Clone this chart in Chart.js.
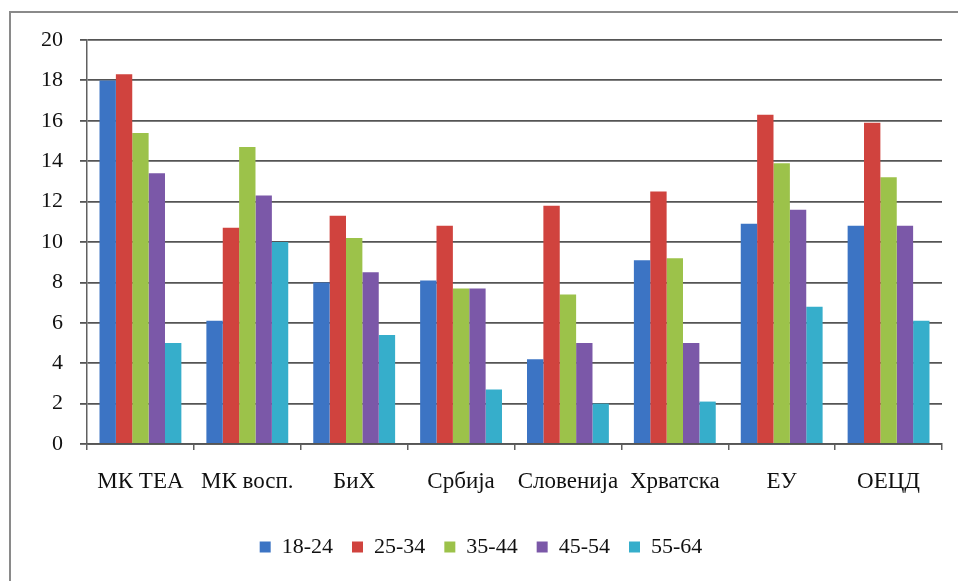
<!DOCTYPE html>
<html>
<head>
<meta charset="utf-8">
<script src="https://cdn.jsdelivr.net/npm/chart.js@4.4.1/dist/chart.umd.min.js"></script>
<style>
  html, body { margin: 0; padding: 0; background: #fff; }
  #wrap { width: 958px; height: 581px; position: relative; }
</style>
</head>
<body>
<div id="wrap"><canvas id="c" width="958" height="581"></canvas></div>
<script>
const categories = ["МК ТЕА", "МК восп.", "БиХ", "Србија", "Словенија", "Хрватска", "ЕУ", "ОЕЦД"];
const seriesNames = ["18-24", "25-34", "35-44", "45-54", "55-64"];
const s18_24 = [18.0, 6.1, 8.0, 8.1, 4.2, 9.1, 10.9, 10.8];
const s25_34 = [18.3, 10.7, 11.3, 10.8, 11.8, 12.5, 16.3, 15.9];
const s35_44 = [15.4, 14.7, 10.2, 7.7, 7.4, 9.2, 13.9, 13.2];
const s45_54 = [13.4, 12.3, 8.5, 7.7, 5.0, 5.0, 11.6, 10.8];
const s55_64 = [5.0, 10.0, 5.4, 2.7, 2.0, 2.1, 6.8, 6.1];
const yTicks = [0, 2, 4, 6, 8, 10, 12, 14, 16, 18, 20];

const colors = ["#3C74C4", "#D0433E", "#9CC24A", "#7B58A8", "#36AECB"];
const values = [s18_24, s25_34, s35_44, s45_54, s55_64];

const framePlugin = {
  id: 'frame',
  beforeDraw(chart) {
    const ctx = chart.ctx;
    ctx.save();
    ctx.fillStyle = '#ffffff';
    ctx.fillRect(0, 0, chart.width, chart.height);
    ctx.strokeStyle = '#8a8a8a';
    ctx.lineWidth = 2;
    ctx.strokeRect(10, 12, 1200, 1200);
    ctx.restore();
  }
};

const serif = "'Liberation Serif', 'Times New Roman', serif";

new Chart(document.getElementById('c'), {
  type: 'bar',
  data: {
    labels: categories,
    datasets: seriesNames.map((n, i) => ({
      label: n,
      data: values[i],
      backgroundColor: colors[i],
      borderWidth: 0,
      categoryPercentage: 0.766,
      barPercentage: 1.0
    }))
  },
  options: {
    responsive: false,
    animation: false,
    devicePixelRatio: 1,
    layout: { padding: { left: 20, right: 16, top: 40, bottom: 13 } },
    plugins: {
      legend: {
        position: 'bottom',
        labels: {
          boxWidth: 11,
          boxHeight: 11,
          padding: 19,
          color: '#111',
          font: { family: serif, size: 22 }
        }
      },
      tooltip: { enabled: false }
    },
    scales: {
      x: {
        grid: {
          drawOnChartArea: false,
          drawTicks: true,
          tickLength: 6,
          color: '#606060',
          lineWidth: 1.5,
          offset: true
        },
        border: { color: '#555', width: 1.8 },
        ticks: {
          color: '#111',
          padding: 18,
          maxRotation: 0,
          autoSkip: false,
          font: { family: serif, size: 23 }
        },
        afterFit(scale) { scale.height = 73; }
      },
      y: {
        min: 0,
        max: 20,
        afterBuildTicks(scale) { scale.ticks = yTicks.map(v => ({ value: v })); },
        grid: {
          color: '#555',
          lineWidth: 1.8,
          tickLength: 7,
          drawTicks: true
        },
        border: { color: '#606060', width: 1.5 },
        ticks: {
          color: '#111',
          padding: 17,
          font: { family: serif, size: 22 }
        },
        afterFit(scale) { scale.width = 67; }
      }
    }
  },
  plugins: [framePlugin]
});
</script>
</body>
</html>
